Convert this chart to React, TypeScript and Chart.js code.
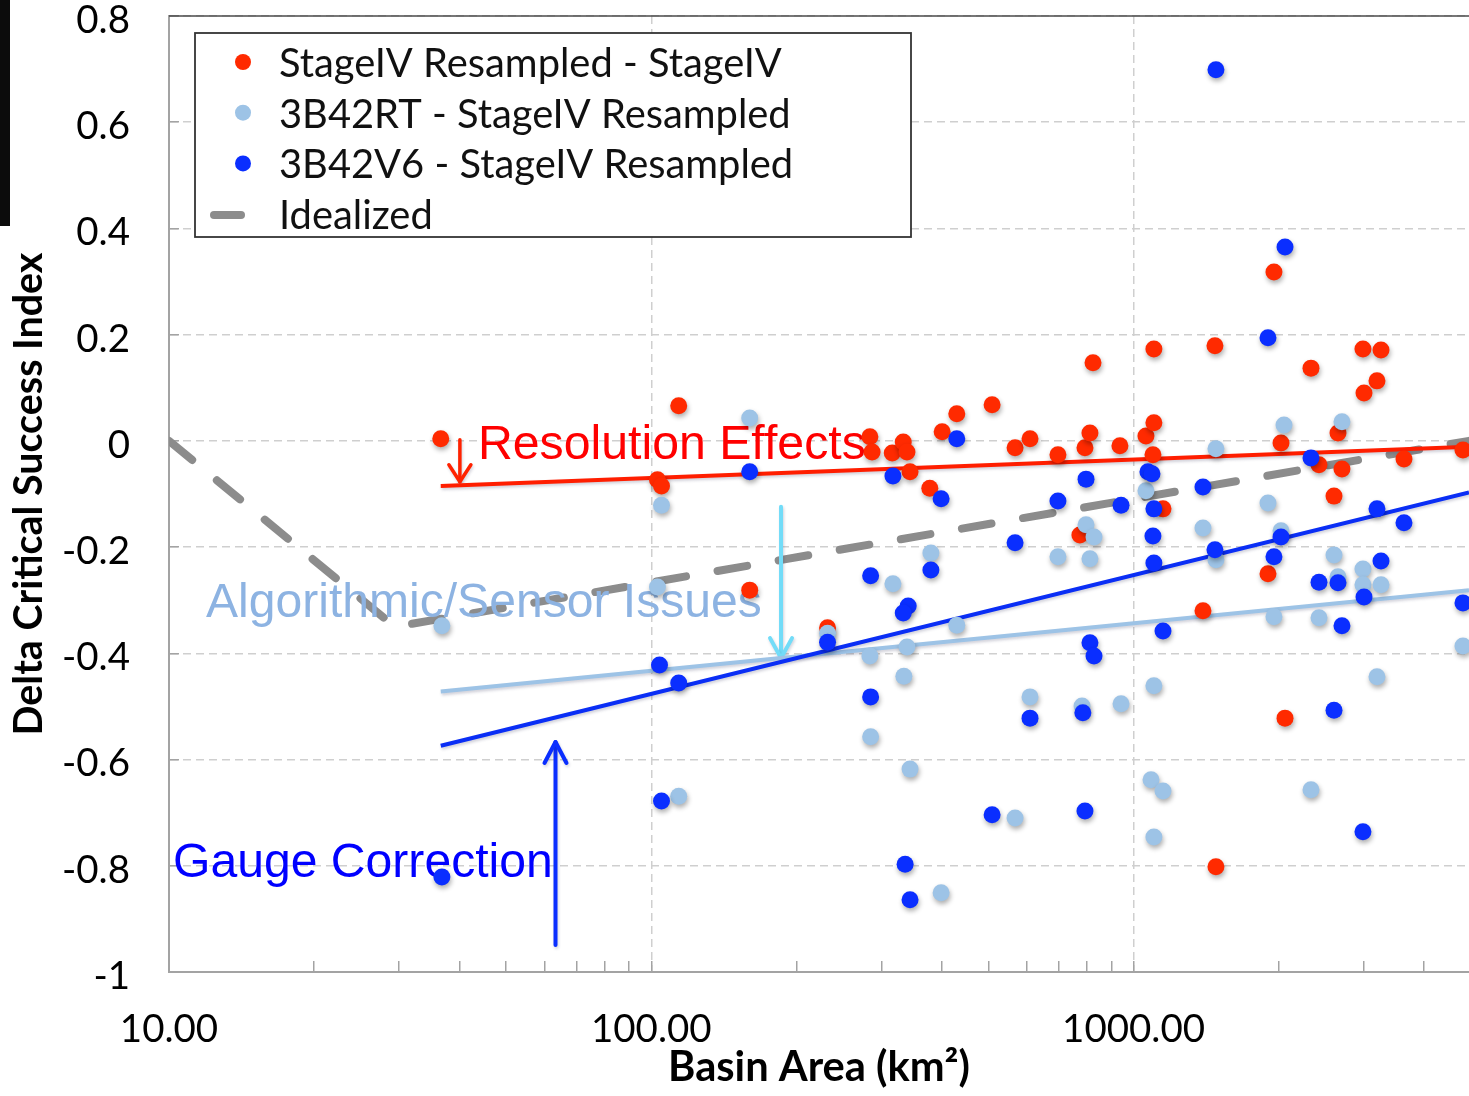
import { useEffect, useRef } from 'react';
import { Chart, registerables } from 'chart.js';

Chart.register(...registerables);

// ---------------------------------------------------------------------------
// Data: basin area (km²) against change in critical success index
// ---------------------------------------------------------------------------
const seriesLabels = [
  'StageIV Resampled - StageIV',
  '3B42RT - StageIV Resampled',
  '3B42V6 - StageIV Resampled',
  'Idealized',
];

// [basin area, delta CSI]
const stageIvResampled: [number, number][] = [
  [36.6, 0.004], [114, 0.066], [103, -0.073], [105, -0.085], [160, -0.281],
  [232, -0.352], [284, 0.008], [287, -0.021], [316, -0.023], [333, -0.002],
  [339, -0.021], [344, -0.058], [378, -0.089], [401, 0.017], [430, 0.051],
  [509, 0.068], [568, -0.013], [610, 0.004], [697, -0.026], [793, -0.013],
  [812, 0.015], [824, 0.147], [937, -0.009], [1061, 0.009], [1102, 0.034],
  [1102, 0.173], [1475, 0.179], [1097, -0.026], [1151, -0.128], [774, -0.177],
  [1393, -0.32], [1482, -0.802], [1955, 0.318], [2333, 0.137], [2990, 0.173],
  [3259, 0.171], [3197, 0.113], [3005, 0.09], [2022, -0.004], [2654, 0.015],
  [2424, -0.045], [2705, -0.053], [3637, -0.034], [4820, -0.017], [2604, -0.104],
  [1900, -0.25], [2061, -0.522],
];

const rt3b42: [number, number][] = [
  [36.8, -0.348], [105, -0.121], [103, -0.275], [114, -0.669], [160, 0.043],
  [380, -0.211], [317, -0.269], [232, -0.362], [284, -0.405], [339, -0.388],
  [430, -0.347], [334, -0.443], [285, -0.557], [344, -0.618], [399, -0.851],
  [797, -0.158], [828, -0.181], [697, -0.218], [812, -0.222], [1061, -0.094],
  [1482, -0.015], [1393, -0.164], [1482, -0.224], [610, -0.482], [782, -0.499],
  [942, -0.495], [1102, -0.461], [568, -0.71], [1087, -0.638], [1151, -0.659],
  [1102, -0.746], [2051, 0.03], [2705, 0.036], [1900, -0.117], [2022, -0.169],
  [2604, -0.215], [2990, -0.241], [2654, -0.256], [2990, -0.271], [3259, -0.271],
  [1955, -0.331], [2424, -0.333], [4820, -0.386], [3197, -0.444], [2333, -0.657],
];

const v6b42: [number, number][] = [
  [36.8, -0.821], [104, -0.422], [114, -0.456], [105, -0.678], [160, -0.058],
  [317, -0.066], [430, 0.004], [399, -0.109], [285, -0.254], [380, -0.243],
  [341, -0.311], [333, -0.324], [232, -0.379], [285, -0.482], [509, -0.704],
  [336, -0.797], [344, -0.864], [797, -0.072], [697, -0.113], [568, -0.192],
  [942, -0.121], [1071, -0.058], [1092, -0.062], [1102, -0.128], [1097, -0.179],
  [1102, -0.23], [1393, -0.087], [1475, -0.205], [812, -0.38], [828, -0.405],
  [1151, -0.358], [610, -0.522], [785, -0.512], [793, -0.697], [1482, 0.699],
  [2061, 0.365], [1900, 0.194], [2333, -0.032], [3197, -0.128], [3637, -0.154],
  [2022, -0.181], [1955, -0.218], [3259, -0.226], [2424, -0.266], [2654, -0.267],
  [3005, -0.294], [2705, -0.348], [4820, -0.305], [2604, -0.507], [2990, -0.736],
];

// Trend lines (log-linear fits, end points)
const stageIvTrend: [number, number][] = [[36.6, -0.085], [4961, -0.011]];
const rtTrend: [number, number][] = [[36.6, -0.472], [4961, -0.281]];
const v6Trend: [number, number][] = [[36.6, -0.574], [4961, -0.097]];
const idealizedCurve: [number, number][] = [[10, 0], [29.4, -0.35], [4961, 0]];

const xRange = [10, 4961];
const yRange = [-1, 0.8];
const yStep = 0.2;

// ---------------------------------------------------------------------------
// Styling and layout
// ---------------------------------------------------------------------------
const RED = '#FF2A00';
const LIGHT = '#9DC3E6';
const BLUE = '#0A2EFF';
const GRAY = '#8C8C8C';
const GRID = '#CFCFCF';
const AXIS = '#A3A3A3';

const W = 1469;
const H = 1096;
const AXIS_W = 169; // width of the y-axis block
const AXIS_H = 124; // height of the x-axis block
const TOP = 16;

const SANS = 'Lato, "Noto Sans", sans-serif';
const HELV = '"Liberation Sans", Arial, sans-serif';

// Callout texts and arrows, anchored in data coordinates
const callouts = [
  { text: 'Resolution Effects', area: 43.7, csi: -0.034, color: '#FF0000', width: 388 },
  { text: 'Algorithmic/Sensor Issues', area: 11.93, csi: -0.332, color: '#8DB3E2', width: 556 },
  { text: 'Gauge Correction', area: 10.19, csi: -0.821, color: '#0000FF', width: 380 },
];
const arrows = [
  { area: 40.1, from: 0.002, to: -0.077, color: '#FF2200', width: 3.5, head: [11, 17] },
  { area: 185.8, from: -0.124, to: -0.409, color: '#72DCF8', width: 4, head: [11, 20] },
  { area: 63.3, from: -0.949, to: -0.567, color: '#0A2EFF', width: 4, head: [11, 21] },
];

const measureCtx = typeof document !== 'undefined'
  ? document.createElement('canvas').getContext('2d')
  : null;

function fitSize(text: string, weight: string, family: string, width: number) {
  if (!measureCtx) return 30;
  measureCtx.font = `${weight} 100px ${family}`;
  return (100 * width) / measureCtx.measureText(text).width;
}

function isWhole(v: number | undefined) {
  if (!v || v <= 0) return false;
  const p = Math.pow(10, Math.floor(Math.log10(v) + 1e-9));
  return Math.abs(v / p - Math.round(v / p)) < 1e-6;
}

function isDecade(v: number | undefined) {
  if (!v || v <= 0) return false;
  const l = Math.log10(v);
  return Math.abs(l - Math.round(l)) < 1e-6;
}

const toXY = (pts: [number, number][]) => pts.map(([x, y]) => ({ x, y }));

const IDEAL_INDEX = 6;

export default function App() {
  const canvasRef = useRef<HTMLCanvasElement | null>(null);

  useEffect(() => {
    const canvas = canvasRef.current;
    if (!canvas) return;

    const tickSize = fitSize('1000.00', 'normal', SANS, 143);
    const legendSize = fitSize(seriesLabels[0], 'normal', SANS, 503);
    const yTitleSize = fitSize('Delta Critical Success Index', 'bold', SANS, 483);
    const xTitleSize = fitSize('Basin Area (km²)', 'bold', SANS, 302);
    const calloutSizes = callouts.map((c) => fitSize(c.text, 'normal', HELV, c.width));

    const drawCallouts = (chart: any) => {
      const { ctx, scales } = chart;
      const xs = scales.x;
      const ys = scales.y;
      ctx.save();
      ctx.textAlign = 'left';
      ctx.textBaseline = 'alphabetic';
      callouts.forEach((c, i) => {
        ctx.font = `${calloutSizes[i]}px ${HELV}`;
        ctx.fillStyle = c.color;
        ctx.fillText(c.text, xs.getPixelForValue(c.area), ys.getPixelForValue(c.csi));
      });
      ctx.lineCap = 'round';
      ctx.lineJoin = 'round';
      ctx.shadowColor = 'rgba(40,40,80,0.2)';
      ctx.shadowBlur = 3;
      ctx.shadowOffsetX = 1;
      ctx.shadowOffsetY = 2;
      arrows.forEach((a) => {
        const px = xs.getPixelForValue(a.area);
        const y1 = ys.getPixelForValue(a.from);
        const y2 = ys.getPixelForValue(a.to);
        const dir = Math.sign(y2 - y1);
        ctx.strokeStyle = a.color;
        ctx.lineWidth = a.width;
        ctx.beginPath();
        ctx.moveTo(px, y1);
        ctx.lineTo(px, y2);
        ctx.stroke();
        ctx.beginPath();
        ctx.moveTo(px - a.head[0], y2 - dir * a.head[1]);
        ctx.lineTo(px, y2);
        ctx.lineTo(px + a.head[0], y2 - dir * a.head[1]);
        ctx.stroke();
      });
      ctx.restore();
    };

    const overlay = {
      id: 'overlay',
      beforeDatasetDraw(chart: any, args: any) {
        const ctx = chart.ctx;
        ctx.save();
        if (args.index === IDEAL_INDEX) return;
        const isLine = !!chart.data.datasets[args.index].showLine;
        ctx.shadowColor = isLine ? 'rgba(40,40,80,0.22)' : 'rgba(0,0,0,0.32)';
        ctx.shadowBlur = isLine ? 3 : 5;
        ctx.shadowOffsetX = 1;
        ctx.shadowOffsetY = isLine ? 2 : 3;
      },
      afterDatasetDraw(chart: any, args: any) {
        chart.ctx.restore();
        if (args.index === IDEAL_INDEX) drawCallouts(chart);
      },
      afterDraw(chart: any) {
        const { ctx, chartArea } = chart;
        ctx.save();
        // top frame line
        ctx.strokeStyle = '#4A4A4A';
        ctx.lineWidth = 1.5;
        ctx.beginPath();
        ctx.moveTo(chartArea.left, chartArea.top);
        ctx.lineTo(chartArea.right, chartArea.top);
        ctx.stroke();

        // legend box
        const lx = chartArea.left + 26;
        const ly = chartArea.top + 17;
        const lw = 716;
        const lh = 204;
        ctx.fillStyle = '#FFFFFF';
        ctx.fillRect(lx, ly, lw, lh);
        ctx.strokeStyle = '#333333';
        ctx.lineWidth = 1.8;
        ctx.strokeRect(lx, ly, lw, lh);

        const ds = chart.data.datasets;
        const entries = [0, 1, 2, IDEAL_INDEX];
        ctx.font = `${legendSize}px ${SANS}`;
        ctx.textAlign = 'left';
        ctx.textBaseline = 'middle';
        entries.forEach((di, row) => {
          const cy = ly + 30 + row * 50.7;
          const d = ds[di];
          if (d.showLine) {
            ctx.strokeStyle = d.borderColor;
            ctx.lineWidth = 8;
            ctx.lineCap = 'round';
            ctx.beginPath();
            ctx.moveTo(lx + 19, cy);
            ctx.lineTo(lx + 46, cy);
            ctx.stroke();
          } else {
            ctx.fillStyle = d.pointBackgroundColor;
            ctx.beginPath();
            ctx.arc(lx + 48, cy - 1, 8, 0, Math.PI * 2);
            ctx.fill();
          }
          ctx.fillStyle = '#111111';
          ctx.fillText(d.label, lx + 84, cy + 1);
        });
        ctx.restore();
      },
    };

    const dots = (label: string, pts: [number, number][], color: string, order: number) => ({
      label,
      data: toXY(pts),
      order,
      showLine: false,
      pointRadius: 8.5,
      pointHoverRadius: 8.5,
      pointBackgroundColor: color,
      pointBorderColor: color,
      pointBorderWidth: 0,
    });
    const line = (label: string, pts: [number, number][], color: string, width: number, order: number, dash?: number[]) => ({
      label,
      data: toXY(pts),
      order,
      showLine: true,
      fill: false,
      borderColor: color,
      borderWidth: width,
      borderDash: dash || [],
      borderCapStyle: dash ? 'round' : 'butt',
      pointRadius: 0,
      pointHoverRadius: 0,
      tension: 0,
    });

    const chart = new Chart(canvas, {
      type: 'scatter',
      data: {
        datasets: [
          dots(seriesLabels[0], stageIvResampled, RED, 2),
          dots(seriesLabels[1], rt3b42, LIGHT, 1),
          dots(seriesLabels[2], v6b42, BLUE, 0),
          line('StageIV fit', stageIvTrend, '#FF1E00', 4, 5),
          line('3B42RT fit', rtTrend, LIGHT, 4, 4),
          line('3B42V6 fit', v6Trend, '#0A2EF5', 4, 3),
          line(seriesLabels[3], idealizedCurve, GRAY, 8, 6, [30, 32]),
        ],
      } as any,
      options: {
        animation: false,
        responsive: false,
        devicePixelRatio: 1,
        events: [],
        layout: { padding: { top: TOP, right: 0, bottom: 0, left: 0 }, autoPadding: false },
        plugins: {
          legend: { display: false },
          tooltip: { enabled: false },
        },
        scales: {
          x: {
            type: 'logarithmic',
            position: 'bottom',
            min: xRange[0],
            max: xRange[1],
            afterFit: (s: any) => {
              s.height = AXIS_H;
              s.paddingLeft = 0;
              s.paddingRight = 0;
            },
            grid: {
              color: (c: any) => (isDecade(c.tick?.value) ? GRID : 'rgba(0,0,0,0)'),
              lineWidth: 1.5,
              tickLength: -11,
              tickWidth: 1.5,
              tickColor: (c: any) => (isWhole(c.tick?.value) ? AXIS : 'rgba(0,0,0,0)'),
            },
            border: { color: AXIS, width: 2, dash: [8, 5] },
            ticks: {
              autoSkip: false,
              maxRotation: 0,
              minRotation: 0,
              padding: 69 - 0.6 * tickSize,
              color: '#000',
              font: { family: SANS, size: tickSize },
              callback: (v: any) => (isDecade(Number(v)) ? Number(v).toFixed(2) : ''),
            },
            title: {
              display: true,
              text: 'Basin Area (km²)',
              color: '#000',
              font: { family: SANS, size: xTitleSize, weight: 'bold' },
              padding: { top: 0, bottom: 28.5 - 0.6 * xTitleSize },
            },
          },
          y: {
            type: 'linear',
            position: 'left',
            min: yRange[0],
            max: yRange[1],
            afterFit: (s: any) => {
              s.width = AXIS_W;
              s.paddingTop = 0;
              s.paddingBottom = 0;
            },
            grid: {
              color: GRID,
              lineWidth: 1.5,
              tickLength: -10,
              tickWidth: 1.5,
              tickColor: AXIS,
            },
            border: { color: AXIS, width: 2, dash: [8, 5] },
            ticks: {
              stepSize: yStep,
              padding: 49,
              labelOffset: 4.5,
              color: '#000',
              font: { family: SANS, size: tickSize },
              callback: (v: any) => {
                const r = Math.round(Number(v) * 10) / 10;
                return r === 0 ? '0' : String(r);
              },
            },
            title: {
              display: true,
              text: 'Delta Critical Success Index',
              color: '#000',
              font: { family: SANS, size: yTitleSize, weight: 'bold' },
              padding: { top: 29 - 0.6 * yTitleSize, bottom: 0 },
            },
          },
        },
      } as any,
      plugins: [overlay],
    });

    return () => chart.destroy();
  }, []);

  return (
    <div
      style={{
        position: 'fixed',
        left: 0,
        top: 0,
        width: W,
        height: H,
        background: '#FFFFFF',
        overflow: 'hidden',
      }}
    >
      <canvas ref={canvasRef} width={W} height={H} style={{ display: 'block' }} />
      <div
        style={{
          position: 'absolute',
          left: 0,
          top: 0,
          width: 10,
          height: 226,
          background: '#0C0C0C',
        }}
      />
    </div>
  );
}
